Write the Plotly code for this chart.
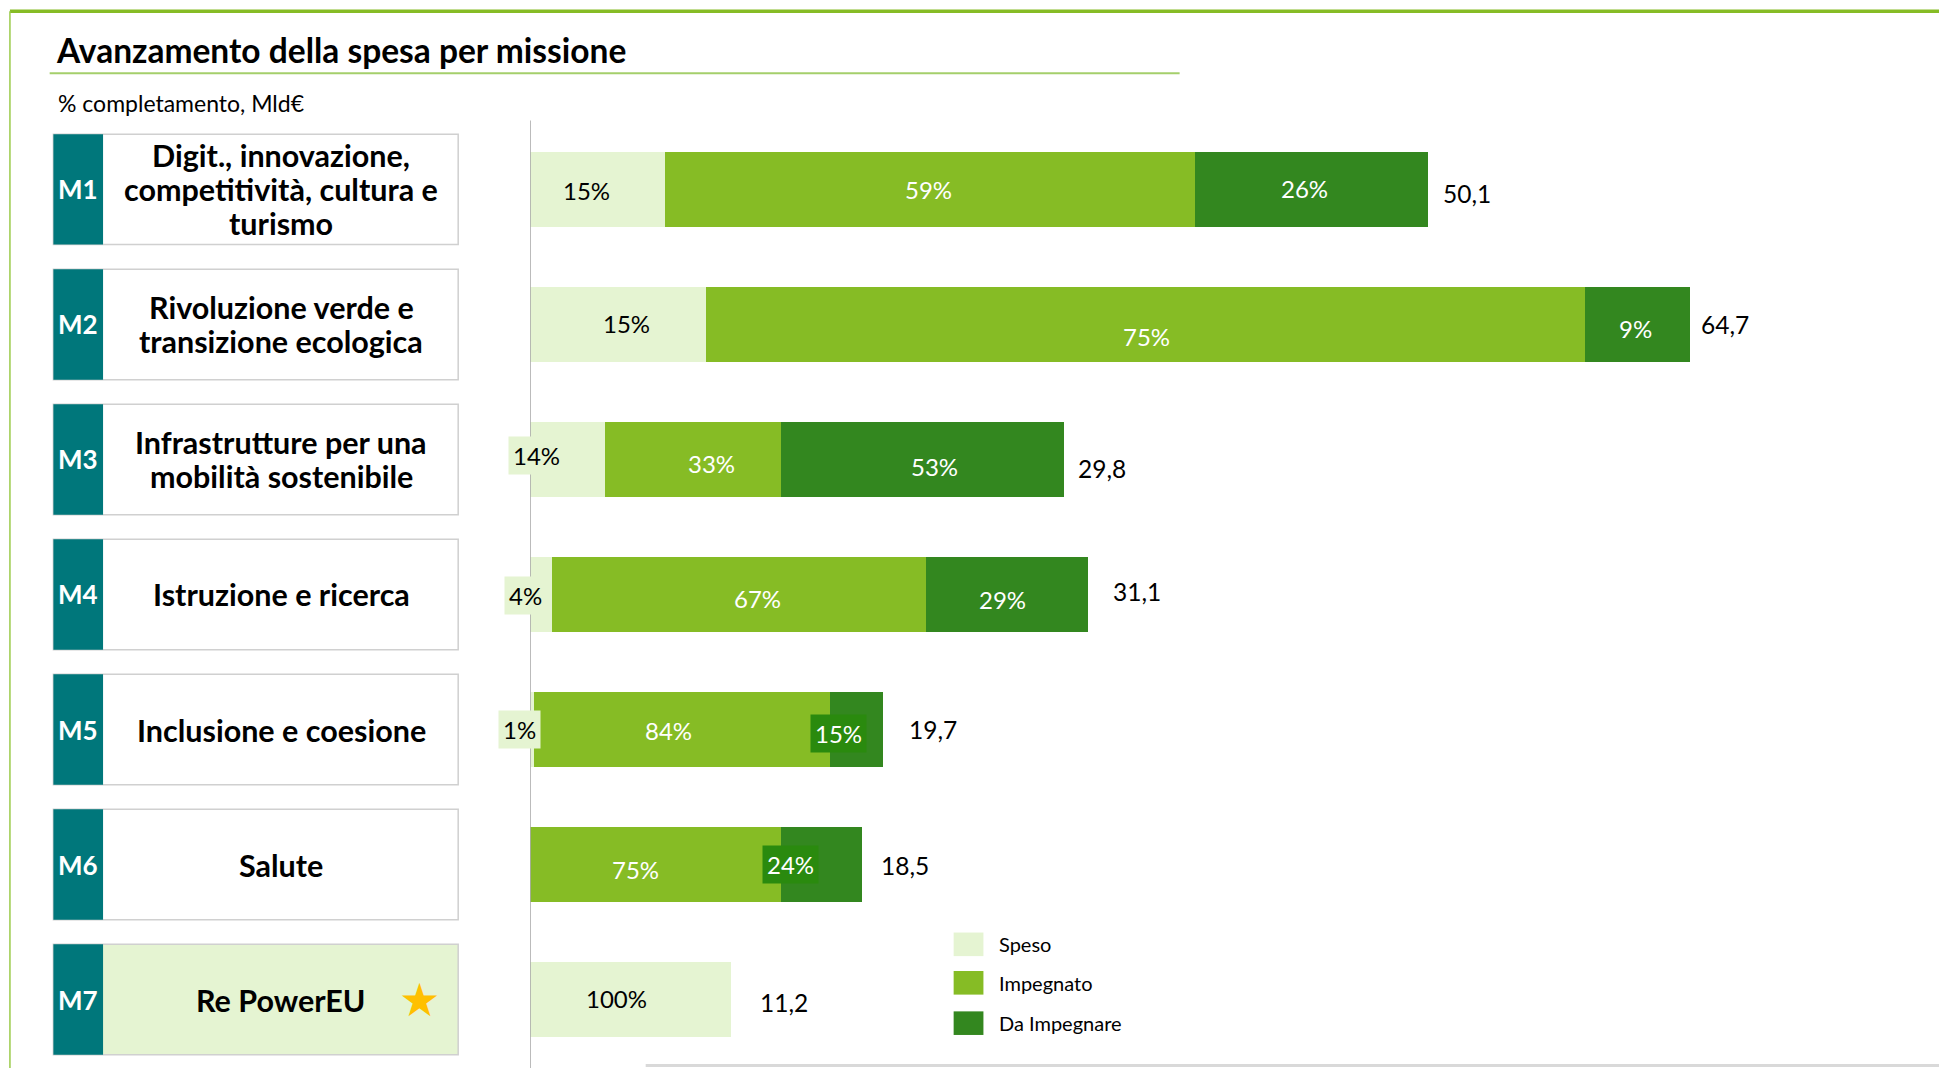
import plotly.graph_objects as go

# ---------------- data ----------------
missions = ["M1", "M2", "M3", "M4", "M5", "M6", "M7"]
mission_labels = [
    "Digit., innovazione,<br>competitività, cultura e<br>turismo",
    "Rivoluzione verde e<br>transizione ecologica",
    "Infrastrutture per una<br>mobilità sostenibile",
    "Istruzione e ricerca",
    "Inclusione e coesione",
    "Salute",
    "Re PowerEU",
]
totals = [50.1, 64.7, 29.8, 31.1, 19.7, 18.5, 11.2]          # Mld€
speso = [15, 15, 14, 4, 1, 0, 100]                           # %
impegnato = [59, 75, 33, 67, 84, 75, 0]                      # %
da_impegnare = [26, 9, 53, 29, 15, 24, 0]                    # %
series_names = ["Speso", "Impegnato", "Da Impegnare"]
total_labels = ["50,1", "64,7", "29,8", "31,1", "19,7", "18,5", "11,2"]

title = "Avanzamento della spesa per missione"
subtitle = "% completamento, Mld€"

# ---------------- style ----------------
PAGE_W, PAGE_H = 1947, 1068
OFF = 8                     # default page body margin
W, H = PAGE_W - OFF, PAGE_H - OFF
S = PAGE_W / 1568.0         # reference-view px -> page px


def px(xv):     # reference-view x -> paper x
    return (xv * S - OFF) / W


def py(yv):     # reference-view y -> paper y
    return 1 - (yv * S - OFF) / H


FONT = "Lato"
C_SPESO = "#E5F4D2"
C_IMP = "#86BC25"
C_DA = "#33871F"
C_DA_LBL = "#2A8A0E"
C_TEAL = "#00777B"
series_colors = [C_SPESO, C_IMP, C_DA]
series_text_colors = ["#000000", "#FFFFFF", "#FFFFFF"]

AX0 = 427 * S - OFF        # value axis position in figure px
PX_PER_UNIT = 14.44 * S    # px per Mld€
ROW0 = 152.5 * S - OFF     # centre of first row (figure px from top)
PITCH = 108.75 * S         # row pitch (px)
BAR_W = 60 / 108.75        # bar thickness in row units
BOX_HALF = 0.409

# per-label fine offsets in reference-view px (dx right, dy down)
label_off = [
    [(-9, 1), (-1, 0), (-6, -1)],
    [(7, -1), (1, 10), (-2, 3)],
    [(-25, -3), (15, 3), (9, 6)],
    [(-13, 1), (15, 3), (-4, 4)],
    [(-10, 0), (-11, 1), (-15, 3)],
    [(0, 0), (-16, 4), (-25, 0)],
    [(-11, -1), (0, 0), (0, 0)],
]
label_bg = [
    [None, None, None],
    [None, None, None],
    [C_SPESO, None, None],
    [C_SPESO, None, None],
    [C_SPESO, None, C_DA_LBL],
    [None, None, C_DA_LBL],
    [None, None, None],
]
total_off = [(10, 3), (7, 0), (9, 7), (19, -2), (19, 0), (14, 1), (22, 2)]

n = len(missions)
pcts = [speso, impegnato, da_impegnare]
ys = list(range(n))

# segment lengths (Mld€), percentages normalised so each bar ends at its total
seg = []
for k in range(3):
    row = []
    for i in range(n):
        s = speso[i] + impegnato[i] + da_impegnare[i]
        row.append(pcts[k][i] / s * totals[i])
    seg.append(row)

fig = go.Figure()
for k in range(3):
    fig.add_trace(go.Bar(
        y=ys, x=seg[k], orientation="h", name=series_names[k],
        marker=dict(color=series_colors[k], line=dict(width=0)),
        width=BAR_W, showlegend=False, hoverinfo="skip",
    ))

ann = []
shapes = []

# segment labels
for i in range(n):
    start = 0.0
    for k in range(3):
        v = seg[k][i]
        if pcts[k][i] > 0:
            dx, dy = label_off[i][k]
            a = dict(
                x=start + v / 2, y=i, xref="x", yref="y",
                xanchor="center", yanchor="middle",
                text=f"{pcts[k][i]}%", showarrow=False,
                font=dict(family=FONT, size=24, color=series_text_colors[k]),
                xshift=dx * S, yshift=-dy * S,
            )
            if label_bg[i][k]:
                a.update(bgcolor=label_bg[i][k], borderpad=4)
            ann.append(a)
        start += v
    dx, dy = total_off[i]
    ann.append(dict(
        x=totals[i], y=i, xref="x", yref="y", text=total_labels[i],
        showarrow=False, xanchor="left", yanchor="middle",
        font=dict(family=FONT, size=24.5, color="#000000"),
        xshift=dx * S, yshift=-dy * S,
    ))

# left mission boxes
LINE_H = 34
for i in range(n):
    fill = C_SPESO if i == n - 1 else "#FFFFFF"
    shapes.append(dict(type="rect", xref="paper", yref="y",
                       x0=px(43), x1=px(369), y0=i - BOX_HALF, y1=i + BOX_HALF,
                       line=dict(color="#D0D0D0", width=1.5), fillcolor=fill, layer="below"))
    shapes.append(dict(type="rect", xref="paper", yref="y",
                       x0=px(43), x1=px(83), y0=i - BOX_HALF, y1=i + BOX_HALF,
                       line=dict(width=0), fillcolor=C_TEAL, layer="below"))
    ann.append(dict(x=px(63), y=i, xref="paper", yref="y",
                    xanchor="center", yanchor="middle",
                    text=f"<b>{missions[i]}</b>", showarrow=False,
                    font=dict(family=FONT, size=26, color="#FFFFFF")))
    lines = mission_labels[i].split("<br>")
    m = len(lines)
    for j, ln in enumerate(lines):
        ann.append(dict(x=px(226.5), y=i, xref="paper", yref="y",
                        xanchor="center", yanchor="middle",
                        text=f"<b>{ln}</b>", showarrow=False,
                        yshift=-(j - (m - 1) / 2) * LINE_H,
                        font=dict(family=FONT, size=30.5, color="#000000")))

# star on Re PowerEU
ann.append(dict(x=px(338), y=n - 1, xref="paper", yref="y", text="★",
                xanchor="center", yanchor="middle",
                showarrow=False, font=dict(family="DejaVu Sans", size=46, color="#FFC000")))

# title & subtitle
ann.append(dict(x=px(43.5), y=py(40), xref="paper", yref="paper", xanchor="left",
                yanchor="middle", text=f"<b>{title}</b>", showarrow=False,
                font=dict(family=FONT, size=33.5, color="#000000")))
ann.append(dict(x=px(45), y=py(83), xref="paper", yref="paper", xanchor="left",
                yanchor="middle", text=subtitle, showarrow=False,
                font=dict(family=FONT, size=23, color="#000000")))

# frame lines
shapes += [
    dict(type="line", xref="paper", yref="paper", x0=px(8), x1=1, y0=py(9), y1=py(9),
         line=dict(color="#86BC25", width=3.5)),
    dict(type="line", xref="paper", yref="paper", x0=px(8), x1=px(8), y0=py(9), y1=0,
         line=dict(color="#9BCB4A", width=1.5)),
    dict(type="line", xref="paper", yref="paper", x0=px(40), x1=px(950), y0=py(59), y1=py(59),
         line=dict(color="#A5CF6B", width=2)),
    dict(type="line", xref="paper", yref="paper", x0=px(520), x1=1, y0=py(858), y1=py(858),
         line=dict(color="#D9D9D9", width=3)),
    dict(type="line", xref="x", yref="paper", x0=0, x1=0, y0=py(97), y1=0,
         line=dict(color="#A6A6A6", width=1.5)),
]

# legend
leg_y = [760.5, 791.5, 824]
for k in range(3):
    yc = leg_y[k]
    shapes.append(dict(type="rect", xref="paper", yref="paper",
                       x0=px(768), x1=px(792),
                       y0=py(yc + 9.5), y1=py(yc - 9.5),
                       line=dict(width=0), fillcolor=series_colors[k]))
    ann.append(dict(x=px(803), y=py(yc), xref="paper", yref="paper",
                    xanchor="left", yanchor="middle", text=series_names[k], showarrow=False,
                    font=dict(family=FONT, size=20, color="#000000")))

fig.update_layout(
    width=W, height=H, margin=dict(l=0, r=0, t=0, b=0),
    paper_bgcolor="#FFFFFF", plot_bgcolor="rgba(0,0,0,0)",
    barmode="stack", bargap=0,
    xaxis=dict(domain=[AX0 / W, 1], range=[0, (W - AX0) / PX_PER_UNIT],
               visible=False, fixedrange=True),
    yaxis=dict(range=[(H - ROW0) / PITCH, -ROW0 / PITCH], visible=False, fixedrange=True),
    annotations=ann, shapes=shapes, showlegend=False,
)

fig.write_html("out.html")
